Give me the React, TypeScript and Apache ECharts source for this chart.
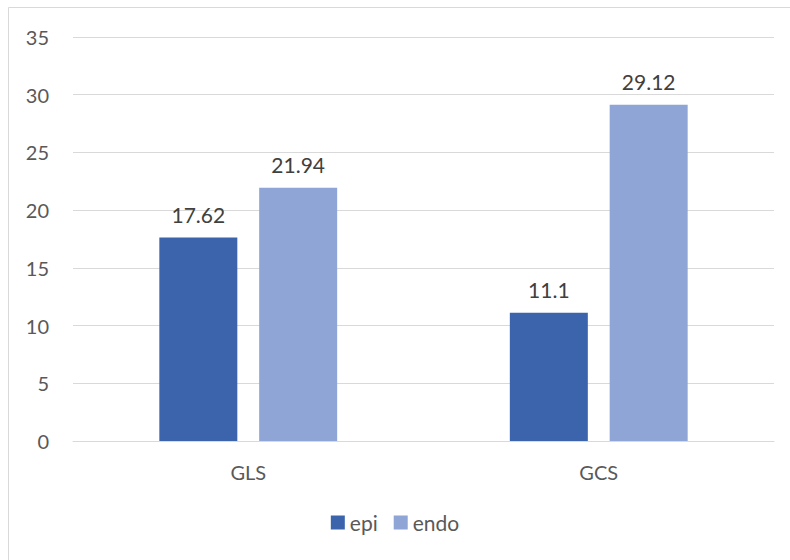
import React, { useEffect, useRef } from "react";
import * as echarts from "echarts";

const categories = ["GLS", "GCS"];
const epiValues = [17.62, 11.1];
const endoValues = [21.94, 29.12];
const seriesNames = ["epi", "endo"];

export default function App() {
  const ref = useRef<HTMLDivElement>(null);
  useEffect(() => {
    if (!ref.current) return;
    const chart = echarts.init(ref.current, undefined, { renderer: "svg" });
    const font = "Lato, 'Open Sans', sans-serif";
    const labelStyle = {
      show: true,
      position: "top" as const,
      distance: 13,
      color: "#404040",
      fontSize: 21,
      fontFamily: font,
    };
    chart.setOption({
      animation: false,
      backgroundColor: "#ffffff",
      graphic: [
        {
          type: "rect",
          shape: { x: 8.5, y: 7.5, width: 820, height: 600 },
          style: { fill: "none", stroke: "#d9d9d9", lineWidth: 1 },
          silent: true,
        },
      ],
      grid: { left: 73, right: 16, top: 37, bottom: 119 },
      legend: {
        bottom: 22,
        left: "center",
        itemWidth: 14,
        itemHeight: 14,
        itemGap: 16,
        itemTextGap: 4,
        icon: "rect",
        textStyle: { color: "#595959", fontSize: 21, fontFamily: font },
        data: seriesNames,
      },
      xAxis: {
        type: "category",
        data: categories,
        axisLine: { lineStyle: { color: "#d9d9d9", width: 1 } },
        axisTick: { show: false },
        axisLabel: { color: "#595959", fontSize: 20, fontFamily: font, margin: 21 },
      },
      yAxis: {
        type: "value",
        min: 0,
        max: 35,
        interval: 5,
        axisLine: { show: false },
        axisTick: { show: false },
        splitLine: { lineStyle: { color: "#d9d9d9", width: 1 } },
        axisLabel: { color: "#595959", fontSize: 20, fontFamily: font, margin: 24 },
      },
      series: [
        {
          name: seriesNames[0],
          type: "bar",
          data: epiValues,
          barWidth: 78,
          barGap: "28%",
          itemStyle: { color: "#3b64ad" },
          label: labelStyle,
        },
        {
          name: seriesNames[1],
          type: "bar",
          data: endoValues,
          barWidth: 78,
          barGap: "28%",
          itemStyle: { color: "#8fa5d5" },
          label: labelStyle,
        },
      ],
    });
    return () => chart.dispose();
  }, []);
  return (
    <div
      ref={ref}
      style={{ position: "absolute", left: 0, top: 0, width: 790, height: 560 }}
    />
  );
}
